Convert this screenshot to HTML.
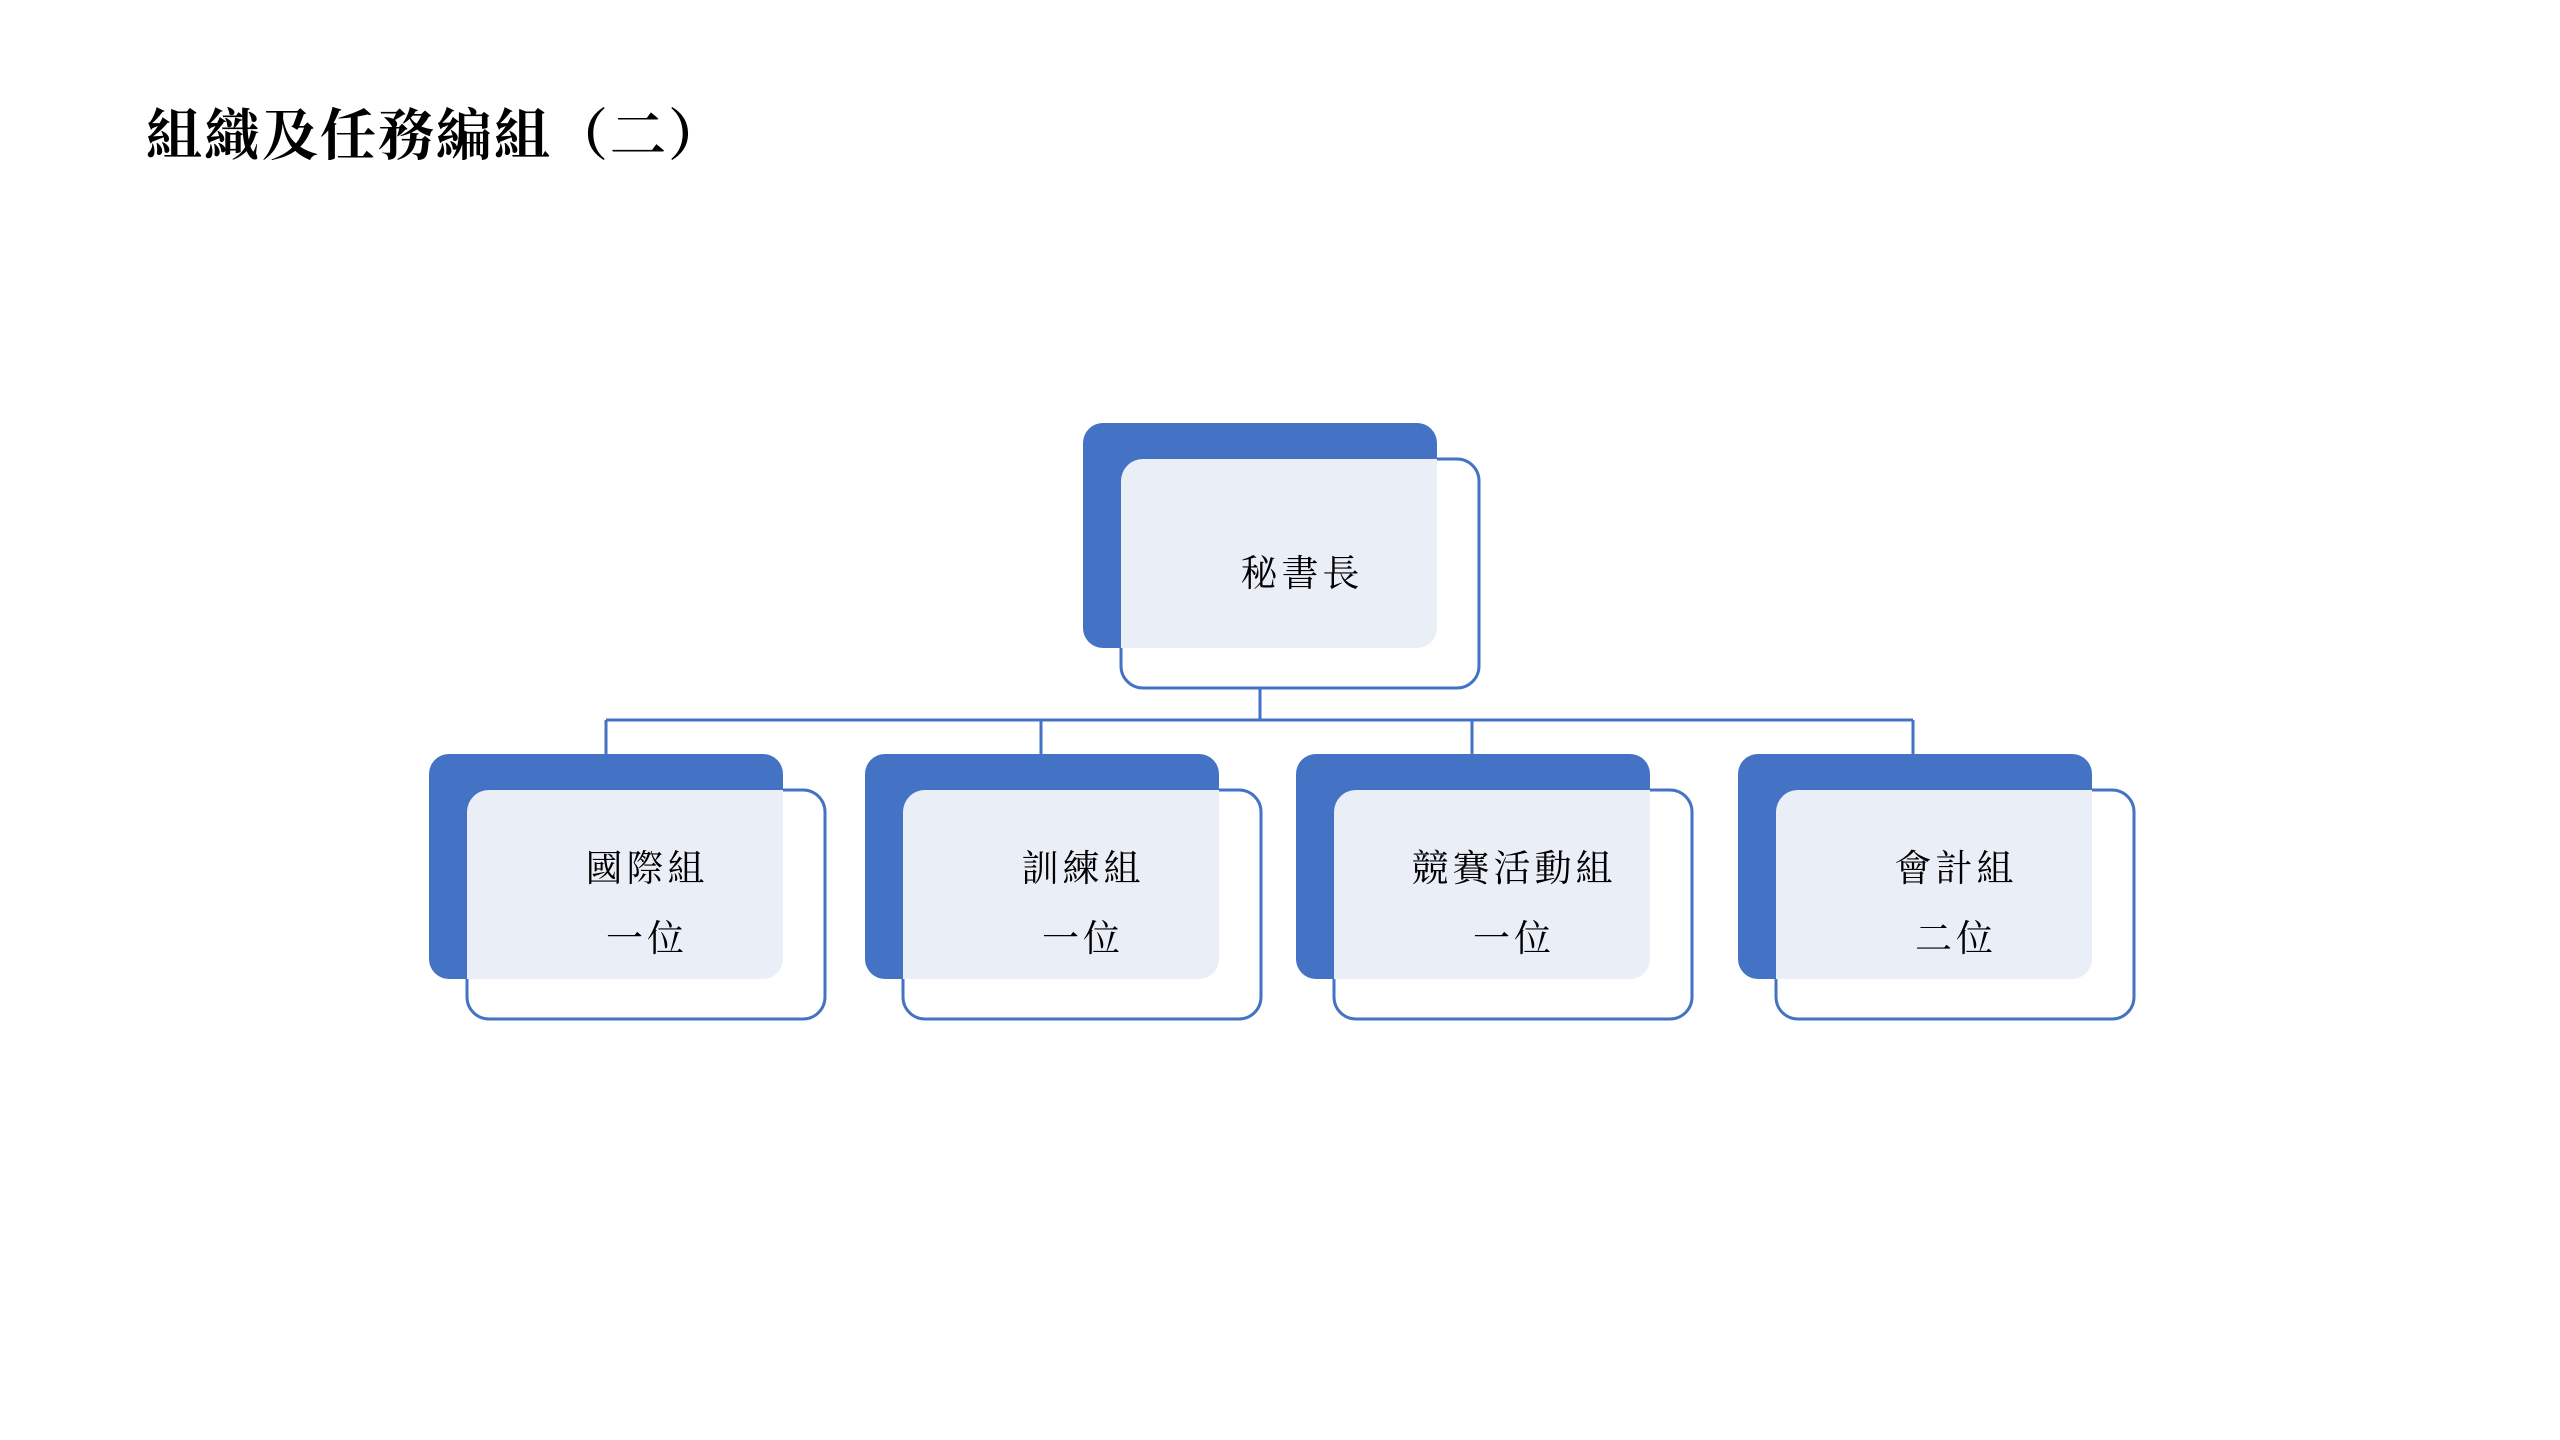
<!DOCTYPE html>
<html><head><meta charset="utf-8"><style>
html,body{margin:0;padding:0;background:#fff;}
svg{display:block}
</style></head><body>
<svg width="2560" height="1440" viewBox="0 0 2560 1440" xmlns="http://www.w3.org/2000/svg">
<rect width="2560" height="1440" fill="#fff"/>
<text x="146" y="155" font-family="'Liberation Serif','Noto Serif CJK SC',serif" font-weight="bold" font-size="56" fill="#000" letter-spacing="2">組織及任務編組（二）</text>
<g stroke="#4472C4" stroke-width="3" fill="none">
<line x1="1260" y1="687" x2="1260" y2="720"/>
<line x1="606" y1="720" x2="1913" y2="720"/>
<line x1="606" y1="720" x2="606" y2="754"/>
<line x1="1041" y1="720" x2="1041" y2="754"/>
<line x1="1472" y1="720" x2="1472" y2="754"/>
<line x1="1913" y1="720" x2="1913" y2="754"/>
</g>
<line x1="1260" y1="650" x2="1260" y2="687" stroke="#d8deea" stroke-width="2"/>
<defs>
<g id="node">
<rect x="0" y="0" width="354" height="225" rx="20" fill="#4472C4"/>
<rect x="38" y="36" width="358" height="229" rx="22" fill="#fff" stroke="#4472C4" stroke-width="3"/>
<path d="M38,58 A22,22 0 0 1 60,36 L354,36 L354,205 A20,20 0 0 1 334,225 L38,225 Z" fill="#E9EEF7"/>
</g>
</defs>
<use href="#node" x="1083" y="423"/>
<use href="#node" x="429" y="754"/>
<use href="#node" x="865" y="754"/>
<use href="#node" x="1296" y="754"/>
<use href="#node" x="1738" y="754"/>
<g font-family="'Liberation Serif','Noto Serif CJK SC',serif" font-size="37" fill="#000" text-anchor="middle" letter-spacing="4">
<text x="1302" y="586">秘書長</text>
<text x="647" y="881">國際組</text>
<text x="647" y="951">一位</text>
<text x="1083" y="881">訓練組</text>
<text x="1083" y="951">一位</text>
<text x="1514" y="881">競賽活動組</text>
<text x="1514" y="951">一位</text>
<text x="1956" y="881">會計組</text>
<text x="1956" y="951">二位</text>
</g>
</svg>
</body></html>
